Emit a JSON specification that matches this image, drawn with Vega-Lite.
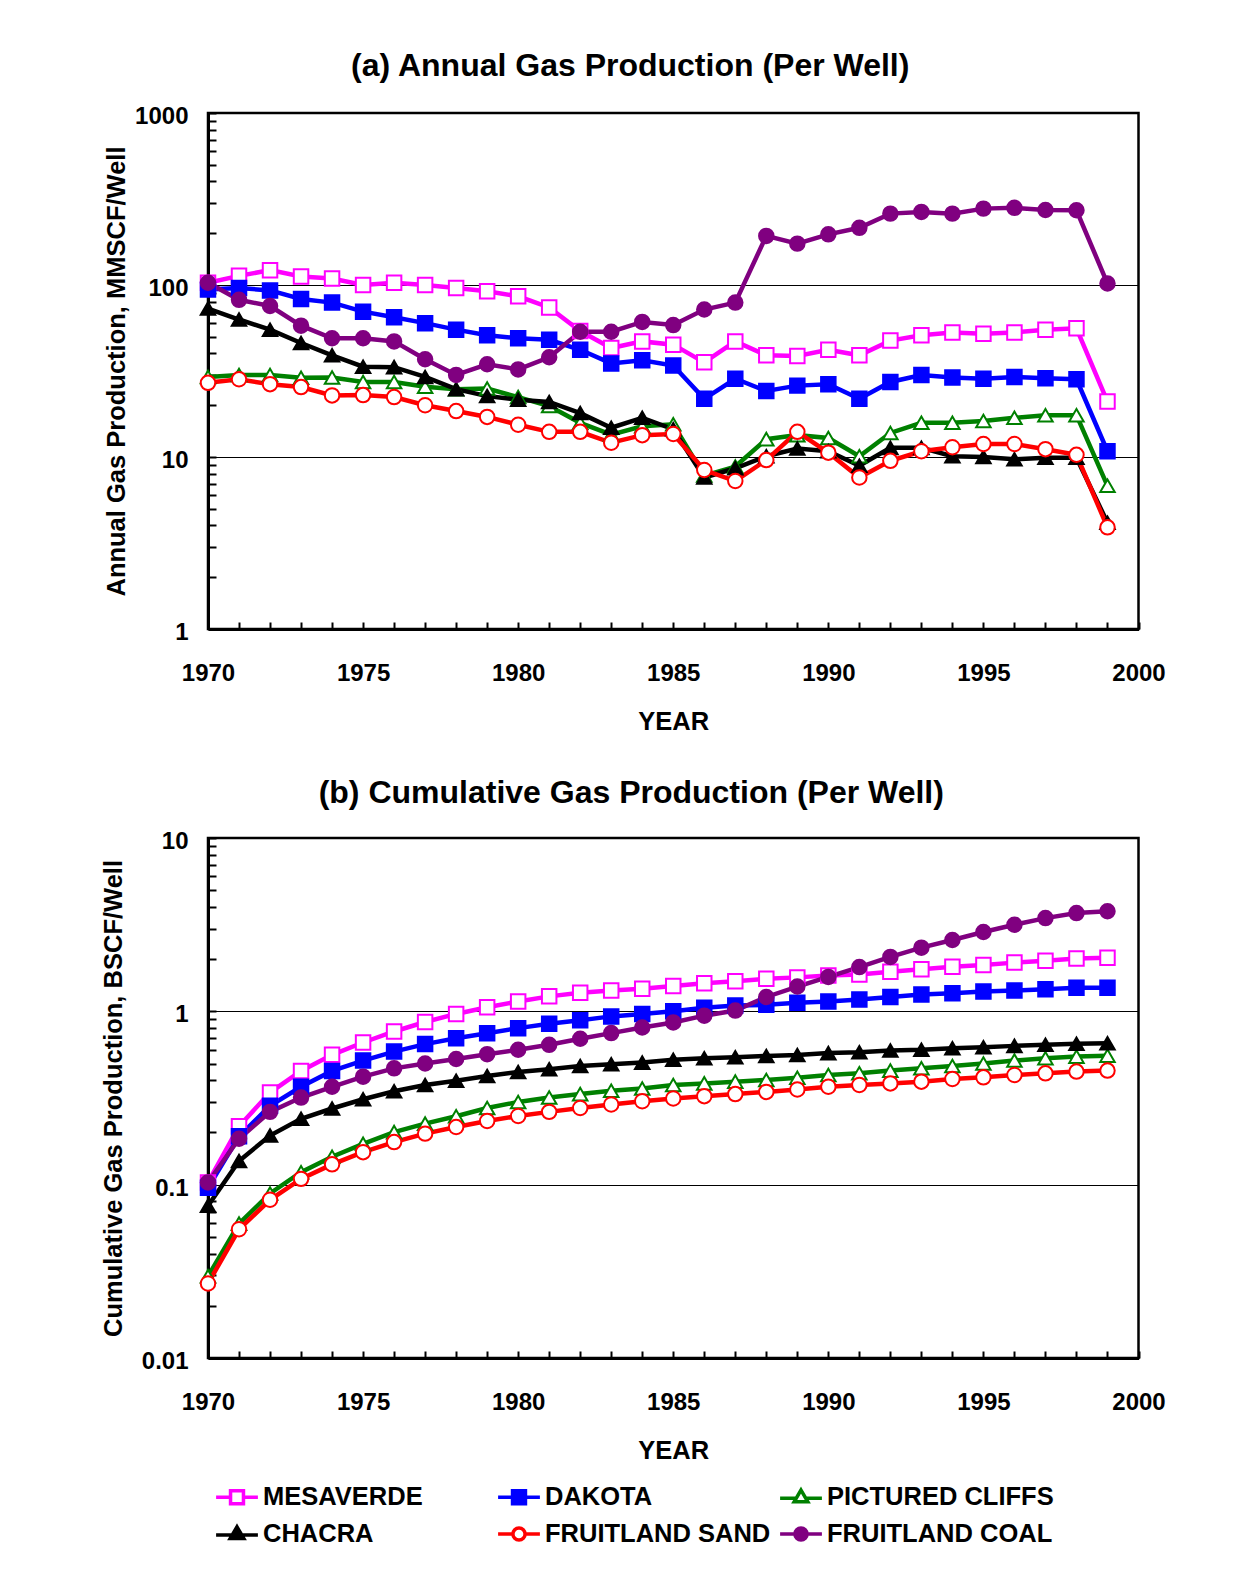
{
  "$schema": "https://vega.github.io/schema/vega-lite/v6.json",
  "padding": {"left": 100, "top": 48, "right": 0, "bottom": 0},
  "spacing": 39,
  "align": "none",
  "datasets": {
    "gas": [
      {"series":"MESAVERDE","year":1970,"annual":103,"cum":0.103},
      {"series":"MESAVERDE","year":1971,"annual":113,"cum":0.217},
      {"series":"MESAVERDE","year":1972,"annual":122,"cum":0.340},
      {"series":"MESAVERDE","year":1973,"annual":112,"cum":0.453},
      {"series":"MESAVERDE","year":1974,"annual":109,"cum":0.561},
      {"series":"MESAVERDE","year":1975,"annual":100,"cum":0.661},
      {"series":"MESAVERDE","year":1976,"annual":103,"cum":0.765},
      {"series":"MESAVERDE","year":1977,"annual":100,"cum":0.868},
      {"series":"MESAVERDE","year":1978,"annual":96,"cum":0.966},
      {"series":"MESAVERDE","year":1979,"annual":92,"cum":1.055},
      {"series":"MESAVERDE","year":1980,"annual":86,"cum":1.14},
      {"series":"MESAVERDE","year":1981,"annual":74,"cum":1.22},
      {"series":"MESAVERDE","year":1982,"annual":54,"cum":1.28},
      {"series":"MESAVERDE","year":1983,"annual":43,"cum":1.32},
      {"series":"MESAVERDE","year":1984,"annual":47,"cum":1.35},
      {"series":"MESAVERDE","year":1985,"annual":45,"cum":1.40},
      {"series":"MESAVERDE","year":1986,"annual":35.5,"cum":1.45},
      {"series":"MESAVERDE","year":1987,"annual":47,"cum":1.49},
      {"series":"MESAVERDE","year":1988,"annual":39,"cum":1.54},
      {"series":"MESAVERDE","year":1989,"annual":38.7,"cum":1.57},
      {"series":"MESAVERDE","year":1990,"annual":42,"cum":1.61},
      {"series":"MESAVERDE","year":1991,"annual":39,"cum":1.63},
      {"series":"MESAVERDE","year":1992,"annual":47.5,"cum":1.69},
      {"series":"MESAVERDE","year":1993,"annual":51,"cum":1.75},
      {"series":"MESAVERDE","year":1994,"annual":53,"cum":1.81},
      {"series":"MESAVERDE","year":1995,"annual":52,"cum":1.85},
      {"series":"MESAVERDE","year":1996,"annual":53,"cum":1.91},
      {"series":"MESAVERDE","year":1997,"annual":55,"cum":1.96},
      {"series":"MESAVERDE","year":1998,"annual":56,"cum":2.02},
      {"series":"MESAVERDE","year":1999,"annual":21,"cum":2.04},
      {"series":"DAKOTA","year":1970,"annual":94,"cum":0.096},
      {"series":"DAKOTA","year":1971,"annual":96,"cum":0.19},
      {"series":"DAKOTA","year":1972,"annual":93,"cum":0.285},
      {"series":"DAKOTA","year":1973,"annual":83,"cum":0.367},
      {"series":"DAKOTA","year":1974,"annual":79,"cum":0.453},
      {"series":"DAKOTA","year":1975,"annual":70,"cum":0.52},
      {"series":"DAKOTA","year":1976,"annual":65,"cum":0.586},
      {"series":"DAKOTA","year":1977,"annual":60,"cum":0.647},
      {"series":"DAKOTA","year":1978,"annual":55,"cum":0.70},
      {"series":"DAKOTA","year":1979,"annual":51,"cum":0.748},
      {"series":"DAKOTA","year":1980,"annual":49,"cum":0.80},
      {"series":"DAKOTA","year":1981,"annual":48,"cum":0.849},
      {"series":"DAKOTA","year":1982,"annual":42,"cum":0.887},
      {"series":"DAKOTA","year":1983,"annual":35,"cum":0.935},
      {"series":"DAKOTA","year":1984,"annual":36.5,"cum":0.966},
      {"series":"DAKOTA","year":1985,"annual":34,"cum":1.0},
      {"series":"DAKOTA","year":1986,"annual":21.8,"cum":1.05},
      {"series":"DAKOTA","year":1987,"annual":28.5,"cum":1.08},
      {"series":"DAKOTA","year":1988,"annual":24.2,"cum":1.09},
      {"series":"DAKOTA","year":1989,"annual":26,"cum":1.12},
      {"series":"DAKOTA","year":1990,"annual":26.5,"cum":1.14},
      {"series":"DAKOTA","year":1991,"annual":21.8,"cum":1.17},
      {"series":"DAKOTA","year":1992,"annual":27.3,"cum":1.21},
      {"series":"DAKOTA","year":1993,"annual":30,"cum":1.25},
      {"series":"DAKOTA","year":1994,"annual":29,"cum":1.27},
      {"series":"DAKOTA","year":1995,"annual":28.5,"cum":1.30},
      {"series":"DAKOTA","year":1996,"annual":29.2,"cum":1.32},
      {"series":"DAKOTA","year":1997,"annual":28.7,"cum":1.34},
      {"series":"DAKOTA","year":1998,"annual":28.3,"cum":1.37},
      {"series":"DAKOTA","year":1999,"annual":10.8,"cum":1.37},
      {"series":"PICTURED CLIFFS","year":1970,"annual":29.2,"cum":0.0296},
      {"series":"PICTURED CLIFFS","year":1971,"annual":30,"cum":0.0596},
      {"series":"PICTURED CLIFFS","year":1972,"annual":30,"cum":0.089},
      {"series":"PICTURED CLIFFS","year":1973,"annual":28.9,"cum":0.118},
      {"series":"PICTURED CLIFFS","year":1974,"annual":29,"cum":0.145},
      {"series":"PICTURED CLIFFS","year":1975,"annual":27.3,"cum":0.172},
      {"series":"PICTURED CLIFFS","year":1976,"annual":27.3,"cum":0.201},
      {"series":"PICTURED CLIFFS","year":1977,"annual":25.6,"cum":0.225},
      {"series":"PICTURED CLIFFS","year":1978,"annual":24.8,"cum":0.248},
      {"series":"PICTURED CLIFFS","year":1979,"annual":25,"cum":0.277},
      {"series":"PICTURED CLIFFS","year":1980,"annual":22.3,"cum":0.30},
      {"series":"PICTURED CLIFFS","year":1981,"annual":19.8,"cum":0.318},
      {"series":"PICTURED CLIFFS","year":1982,"annual":15.8,"cum":0.333},
      {"series":"PICTURED CLIFFS","year":1983,"annual":13.5,"cum":0.348},
      {"series":"PICTURED CLIFFS","year":1984,"annual":15.1,"cum":0.359},
      {"series":"PICTURED CLIFFS","year":1985,"annual":15.5,"cum":0.376},
      {"series":"PICTURED CLIFFS","year":1986,"annual":7.8,"cum":0.384},
      {"series":"PICTURED CLIFFS","year":1987,"annual":8.8,"cum":0.393},
      {"series":"PICTURED CLIFFS","year":1988,"annual":12.7,"cum":0.402},
      {"series":"PICTURED CLIFFS","year":1989,"annual":13.4,"cum":0.414},
      {"series":"PICTURED CLIFFS","year":1990,"annual":12.9,"cum":0.429},
      {"series":"PICTURED CLIFFS","year":1991,"annual":10.1,"cum":0.439},
      {"series":"PICTURED CLIFFS","year":1992,"annual":13.8,"cum":0.455},
      {"series":"PICTURED CLIFFS","year":1993,"annual":15.8,"cum":0.469},
      {"series":"PICTURED CLIFFS","year":1994,"annual":15.8,"cum":0.484},
      {"series":"PICTURED CLIFFS","year":1995,"annual":16.2,"cum":0.50},
      {"series":"PICTURED CLIFFS","year":1996,"annual":16.9,"cum":0.52},
      {"series":"PICTURED CLIFFS","year":1997,"annual":17.5,"cum":0.536},
      {"series":"PICTURED CLIFFS","year":1998,"annual":17.5,"cum":0.548},
      {"series":"PICTURED CLIFFS","year":1999,"annual":6.8,"cum":0.555},
      {"series":"CHACRA","year":1970,"annual":73,"cum":0.0755},
      {"series":"CHACRA","year":1971,"annual":63,"cum":0.137},
      {"series":"CHACRA","year":1972,"annual":55,"cum":0.192},
      {"series":"CHACRA","year":1973,"annual":46,"cum":0.240},
      {"series":"CHACRA","year":1974,"annual":39,"cum":0.275},
      {"series":"CHACRA","year":1975,"annual":33.5,"cum":0.311},
      {"series":"CHACRA","year":1976,"annual":33.3,"cum":0.346},
      {"series":"CHACRA","year":1977,"annual":29.2,"cum":0.376},
      {"series":"CHACRA","year":1978,"annual":24.8,"cum":0.398},
      {"series":"CHACRA","year":1979,"annual":22.6,"cum":0.424},
      {"series":"CHACRA","year":1980,"annual":21.5,"cum":0.447},
      {"series":"CHACRA","year":1981,"annual":20.9,"cum":0.463},
      {"series":"CHACRA","year":1982,"annual":18,"cum":0.484},
      {"series":"CHACRA","year":1983,"annual":14.8,"cum":0.495},
      {"series":"CHACRA","year":1984,"annual":16.9,"cum":0.506},
      {"series":"CHACRA","year":1985,"annual":14.5,"cum":0.525},
      {"series":"CHACRA","year":1986,"annual":7.6,"cum":0.536},
      {"series":"CHACRA","year":1987,"annual":8.6,"cum":0.544},
      {"series":"CHACRA","year":1988,"annual":10.1,"cum":0.553},
      {"series":"CHACRA","year":1989,"annual":11.2,"cum":0.56},
      {"series":"CHACRA","year":1990,"annual":10.8,"cum":0.574},
      {"series":"CHACRA","year":1991,"annual":8.9,"cum":0.581},
      {"series":"CHACRA","year":1992,"annual":11.3,"cum":0.594},
      {"series":"CHACRA","year":1993,"annual":11.3,"cum":0.60},
      {"series":"CHACRA","year":1994,"annual":10.1,"cum":0.613},
      {"series":"CHACRA","year":1995,"annual":10,"cum":0.621},
      {"series":"CHACRA","year":1996,"annual":9.7,"cum":0.632},
      {"series":"CHACRA","year":1997,"annual":9.9,"cum":0.641},
      {"series":"CHACRA","year":1998,"annual":9.9,"cum":0.65},
      {"series":"CHACRA","year":1999,"annual":4.15,"cum":0.655},
      {"series":"FRUITLAND SAND","year":1970,"annual":27,"cum":0.0269},
      {"series":"FRUITLAND SAND","year":1971,"annual":28.3,"cum":0.0553},
      {"series":"FRUITLAND SAND","year":1972,"annual":26.5,"cum":0.0818},
      {"series":"FRUITLAND SAND","year":1973,"annual":25.5,"cum":0.108},
      {"series":"FRUITLAND SAND","year":1974,"annual":22.8,"cum":0.131},
      {"series":"FRUITLAND SAND","year":1975,"annual":22.9,"cum":0.154},
      {"series":"FRUITLAND SAND","year":1976,"annual":22.3,"cum":0.176},
      {"series":"FRUITLAND SAND","year":1977,"annual":20,"cum":0.197},
      {"series":"FRUITLAND SAND","year":1978,"annual":18.5,"cum":0.215},
      {"series":"FRUITLAND SAND","year":1979,"annual":17.1,"cum":0.233},
      {"series":"FRUITLAND SAND","year":1980,"annual":15.4,"cum":0.249},
      {"series":"FRUITLAND SAND","year":1981,"annual":14,"cum":0.263},
      {"series":"FRUITLAND SAND","year":1982,"annual":14,"cum":0.277},
      {"series":"FRUITLAND SAND","year":1983,"annual":12.1,"cum":0.290},
      {"series":"FRUITLAND SAND","year":1984,"annual":13.4,"cum":0.303},
      {"series":"FRUITLAND SAND","year":1985,"annual":13.6,"cum":0.314},
      {"series":"FRUITLAND SAND","year":1986,"annual":8.4,"cum":0.324},
      {"series":"FRUITLAND SAND","year":1987,"annual":7.25,"cum":0.333},
      {"series":"FRUITLAND SAND","year":1988,"annual":9.6,"cum":0.343},
      {"series":"FRUITLAND SAND","year":1989,"annual":14,"cum":0.354},
      {"series":"FRUITLAND SAND","year":1990,"annual":10.6,"cum":0.367},
      {"series":"FRUITLAND SAND","year":1991,"annual":7.6,"cum":0.376},
      {"series":"FRUITLAND SAND","year":1992,"annual":9.5,"cum":0.384},
      {"series":"FRUITLAND SAND","year":1993,"annual":10.8,"cum":0.393},
      {"series":"FRUITLAND SAND","year":1994,"annual":11.4,"cum":0.407},
      {"series":"FRUITLAND SAND","year":1995,"annual":11.9,"cum":0.416},
      {"series":"FRUITLAND SAND","year":1996,"annual":11.9,"cum":0.429},
      {"series":"FRUITLAND SAND","year":1997,"annual":11.1,"cum":0.439},
      {"series":"FRUITLAND SAND","year":1998,"annual":10.3,"cum":0.449},
      {"series":"FRUITLAND SAND","year":1999,"annual":3.9,"cum":0.455},
      {"series":"FRUITLAND COAL","year":1970,"annual":103,"cum":0.103},
      {"series":"FRUITLAND COAL","year":1971,"annual":82,"cum":0.184},
      {"series":"FRUITLAND COAL","year":1972,"annual":75.5,"cum":0.263},
      {"series":"FRUITLAND COAL","year":1973,"annual":58,"cum":0.318},
      {"series":"FRUITLAND COAL","year":1974,"annual":49,"cum":0.367},
      {"series":"FRUITLAND COAL","year":1975,"annual":49,"cum":0.42},
      {"series":"FRUITLAND COAL","year":1976,"annual":47,"cum":0.469},
      {"series":"FRUITLAND COAL","year":1977,"annual":37,"cum":0.50},
      {"series":"FRUITLAND COAL","year":1978,"annual":30,"cum":0.531},
      {"series":"FRUITLAND COAL","year":1979,"annual":34.6,"cum":0.566},
      {"series":"FRUITLAND COAL","year":1980,"annual":32.3,"cum":0.60},
      {"series":"FRUITLAND COAL","year":1981,"annual":38,"cum":0.641},
      {"series":"FRUITLAND COAL","year":1982,"annual":53.5,"cum":0.695},
      {"series":"FRUITLAND COAL","year":1983,"annual":53.5,"cum":0.749},
      {"series":"FRUITLAND COAL","year":1984,"annual":61,"cum":0.807},
      {"series":"FRUITLAND COAL","year":1985,"annual":58.5,"cum":0.863},
      {"series":"FRUITLAND COAL","year":1986,"annual":72,"cum":0.944},
      {"series":"FRUITLAND COAL","year":1987,"annual":79,"cum":1.01},
      {"series":"FRUITLAND COAL","year":1988,"annual":193,"cum":1.21},
      {"series":"FRUITLAND COAL","year":1989,"annual":174,"cum":1.39},
      {"series":"FRUITLAND COAL","year":1990,"annual":197,"cum":1.58},
      {"series":"FRUITLAND COAL","year":1991,"annual":215,"cum":1.80},
      {"series":"FRUITLAND COAL","year":1992,"annual":260,"cum":2.06},
      {"series":"FRUITLAND COAL","year":1993,"annual":266,"cum":2.33},
      {"series":"FRUITLAND COAL","year":1994,"annual":260,"cum":2.58},
      {"series":"FRUITLAND COAL","year":1995,"annual":278,"cum":2.87},
      {"series":"FRUITLAND COAL","year":1996,"annual":281,"cum":3.16},
      {"series":"FRUITLAND COAL","year":1997,"annual":273,"cum":3.45},
      {"series":"FRUITLAND COAL","year":1998,"annual":272,"cum":3.69},
      {"series":"FRUITLAND COAL","year":1999,"annual":102,"cum":3.78}
    ]
  },
  "data": {"name": "gas"},
  "resolve": {"scale": {"stroke": "independent", "fill": "independent", "shape": "independent"}},
  "vconcat": [
    {
      "width": 930.5,
      "height": 516,
      "title": {"text": "(a) Annual Gas Production (Per Well)", "dx": -43, "offset": 22},
      "encoding": {
        "x": {
          "field": "year", "type": "quantitative",
          "scale": {"domain": [1970, 2000], "nice": false, "zero": false},
          "axis": {
            "title": "YEAR",
            "values": [1970,1971,1972,1973,1974,1975,1976,1977,1978,1979,1980,1981,1982,1983,1984,1985,1986,1987,1988,1989,1990,1991,1992,1993,1994,1995,1996,1997,1998,1999,2000],
            "labelExpr": "datum.value % 5 == 0 ? '' + datum.value : ''",
            "tickSize": -7, "labelPadding": 39, "titlePadding": 24,
            "labelFlush": false, "labelOverlap": false, "grid": false
          }
        },
        "y": {
          "field": "annual", "type": "quantitative",
          "scale": {"type": "log", "domain": [1, 1000], "nice": false},
          "axis": {
            "title": "Annual Gas Production, MMSCF/Well",
            "values": [1,2,3,4,5,6,7,8,9,10,20,30,40,50,60,70,80,90,100,200,300,400,500,600,700,800,900,1000],
            "labelExpr": "indexof([1,10,100,1000], datum.value) >= 0 ? '' + datum.value : ''",
            "tickSize": -8, "labelPadding": 28, "titlePadding": 5, "labelOffset": 3.5,
            "labelOverlap": false,
            "grid": true,
            "gridOpacity": {"condition": {"test": "datum.value == 10 || datum.value == 100", "value": 1}, "value": 0}
          }
        }
      },
      "layer": [
        {
          "mark": {"type": "line", "strokeWidth": 4.5},
          "encoding": {
            "stroke": {"field": "series", "type": "nominal", "legend": null,
              "scale": {"domain": ["MESAVERDE","DAKOTA","PICTURED CLIFFS","CHACRA","FRUITLAND SAND","FRUITLAND COAL"],
                        "range": ["#FF00FF","#0000FF","#008000","#000000","#FF0000","#800080"]}}
          }
        },
        {
          "mark": {"type": "point", "filled": true, "opacity": 1, "size": 210, "strokeWidth": 2},
          "encoding": {
            "stroke": {"field": "series", "type": "nominal", "legend": null},
            "fill": {"field": "series", "type": "nominal", "legend": null,
              "scale": {"domain": ["MESAVERDE","DAKOTA","PICTURED CLIFFS","CHACRA","FRUITLAND SAND","FRUITLAND COAL"],
                        "range": ["#FFFFFF","#0000FF","#FFFFFF","#000000","#FFFFFF","#800080"]}},
            "shape": {"field": "series", "type": "nominal", "legend": null,
              "scale": {"domain": ["MESAVERDE","DAKOTA","PICTURED CLIFFS","CHACRA","FRUITLAND SAND","FRUITLAND COAL"],
                        "range": ["square","square","triangle-up","triangle-up","circle","circle"]}}
          }
        }
      ]
    },
    {
      "width": 930.5,
      "height": 520,
      "title": {"text": "(b) Cumulative Gas Production (Per Well)", "dx": -42, "offset": 20},
      "encoding": {
        "x": {
          "field": "year", "type": "quantitative",
          "scale": {"domain": [1970, 2000], "nice": false, "zero": false},
          "axis": {
            "title": "YEAR",
            "values": [1970,1971,1972,1973,1974,1975,1976,1977,1978,1979,1980,1981,1982,1983,1984,1985,1986,1987,1988,1989,1990,1991,1992,1993,1994,1995,1996,1997,1998,1999,2000],
            "labelExpr": "datum.value % 5 == 0 ? '' + datum.value : ''",
            "tickSize": -7, "labelPadding": 39, "titlePadding": 24,
            "labelFlush": false, "labelOverlap": false, "grid": false
          }
        },
        "y": {
          "field": "cum", "type": "quantitative",
          "scale": {"type": "log", "domain": [0.01, 10], "nice": false},
          "axis": {
            "title": "Cumulative Gas Production, BSCF/Well",
            "values": [0.01,0.02,0.03,0.04,0.05,0.06,0.07,0.08,0.09,0.1,0.2,0.3,0.4,0.5,0.6,0.7,0.8,0.9,1,2,3,4,5,6,7,8,9,10],
            "labelExpr": "indexof([0.01,0.1,1,10], datum.value) >= 0 ? '' + datum.value : ''",
            "tickSize": -8, "labelPadding": 28, "titlePadding": 15, "labelOffset": 3.5,
            "labelOverlap": false,
            "grid": true,
            "gridOpacity": {"condition": {"test": "datum.value == 0.1 || datum.value == 1", "value": 1}, "value": 0}
          }
        }
      },
      "resolve": {"scale": {"stroke": "independent", "fill": "independent", "shape": "independent"}},
      "layer": [
        {
          "mark": {"type": "line", "strokeWidth": 4.5},
          "encoding": {
            "stroke": {"field": "series", "type": "nominal", "legend": null,
              "scale": {"domain": ["MESAVERDE","DAKOTA","PICTURED CLIFFS","CHACRA","FRUITLAND SAND","FRUITLAND COAL"],
                        "range": ["#FF00FF","#0000FF","#008000","#000000","#FF0000","#800080"]}}
          }
        },
        {
          "mark": {"type": "point", "filled": true, "opacity": 1, "size": 210, "strokeWidth": 2},
          "encoding": {
            "stroke": {"field": "series", "type": "nominal", "legend": null,
              "scale": {"domain": ["MESAVERDE","DAKOTA","PICTURED CLIFFS","CHACRA","FRUITLAND SAND","FRUITLAND COAL"],
                        "range": ["#FF00FF","#0000FF","#008000","#000000","#FF0000","#800080"]}},
            "fill": {"field": "series", "type": "nominal", "legend": null,
              "scale": {"domain": ["MESAVERDE","DAKOTA","PICTURED CLIFFS","CHACRA","FRUITLAND SAND","FRUITLAND COAL"],
                        "range": ["#FFFFFF","#0000FF","#FFFFFF","#000000","#FFFFFF","#800080"]}},
            "shape": {"field": "series", "type": "nominal", "legend": null,
              "scale": {"domain": ["MESAVERDE","DAKOTA","PICTURED CLIFFS","CHACRA","FRUITLAND SAND","FRUITLAND COAL"],
                        "range": ["square","square","triangle-up","triangle-up","circle","circle"]}}
          }
        },
        {
          "transform": [{"filter": "false"}],
          "mark": {"type": "point", "filled": true, "opacity": 1, "strokeWidth": 3.5},
          "encoding": {
            "stroke": {"field": "series", "type": "nominal",
              "scale": {"domain": ["MESAVERDE","DAKOTA","PICTURED CLIFFS","CHACRA","FRUITLAND SAND","FRUITLAND COAL"],
                        "range": ["#FF00FF","#0000FF","#008000","#000000","#FF0000","#800080"]},
              "legend": {"title": null, "orient": "bottom", "direction": "horizontal", "columns": 3}},
            "fill": {"field": "series", "type": "nominal",
              "scale": {"domain": ["MESAVERDE","DAKOTA","PICTURED CLIFFS","CHACRA","FRUITLAND SAND","FRUITLAND COAL"],
                        "range": ["#FFFFFF","#0000FF","#FFFFFF","#000000","#FFFFFF","#800080"]},
              "legend": {"title": null, "orient": "bottom", "direction": "horizontal", "columns": 3}},
            "shape": {"field": "series", "type": "nominal",
              "scale": {"domain": ["MESAVERDE","DAKOTA","PICTURED CLIFFS","CHACRA","FRUITLAND SAND","FRUITLAND COAL"],
                        "range": [
                          "M-1.1,0H-0.34M0.34,0H1.1M-0.34,-0.34H0.34V0.34H-0.34Z",
                          "M-1.1,0H-0.34M0.34,0H1.1M-0.34,-0.34H0.34V0.34H-0.34Z",
                          "M-1.1,0.05H-0.25M0.25,0.05H1.1M0,-0.38L0.36,0.24H-0.36Z",
                          "M-1.1,0.05H-0.25M0.25,0.05H1.1M0,-0.38L0.36,0.24H-0.36Z",
                          "M-1.1,0H-0.32M0.32,0H1.1M0.32,0A0.32,0.32 0 1,1 -0.32,0A0.32,0.32 0 1,1 0.32,0Z",
                          "M-1.1,0H-0.32M0.32,0H1.1M0.32,0A0.32,0.32 0 1,1 -0.32,0A0.32,0.32 0 1,1 0.32,0Z"
                        ]},
              "legend": {"title": null, "orient": "bottom", "direction": "horizontal", "columns": 3}}
          }
        }
      ]
    }
  ],
  "config": {
    "font": "Liberation Sans",
    "view": {"stroke": "black", "strokeWidth": 2.5},
    "title": {"font": "Liberation Sans", "fontSize": 32, "fontWeight": "bold", "color": "black"},
    "axis": {
      "labelFont": "Liberation Sans", "labelFontSize": 24, "labelFontWeight": "bold", "labelColor": "black",
      "titleFont": "Liberation Sans", "titleFontSize": 25.5, "titleFontWeight": "bold", "titleColor": "black",
      "domainColor": "black", "domainWidth": 3, "tickColor": "black", "tickWidth": 2,
      "gridColor": "black", "gridWidth": 1
    },
    "legend": {
      "labelFont": "Liberation Sans", "labelFontSize": 25.5, "labelFontWeight": "bold", "labelColor": "black",
      "symbolSize": 1444, "symbolStrokeWidth": 3.5, "labelOffset": 5,
      "gridAlign": "all", "columnPadding": 1, "rowPadding": 2, "padding": 8, "offset": 4,
      "labelLimit": 400
    }
  }
}
